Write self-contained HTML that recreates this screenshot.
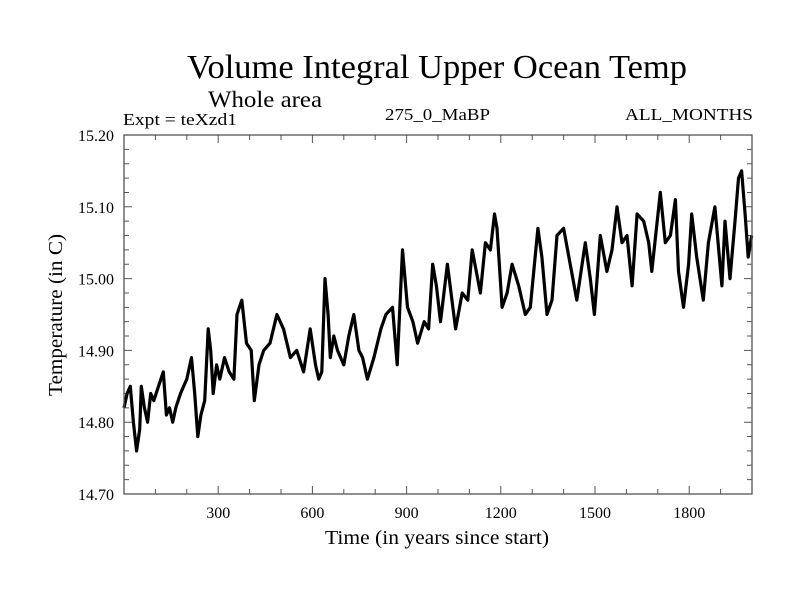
<!DOCTYPE html>
<html><head><meta charset="utf-8"><style>
html,body{margin:0;padding:0;background:#fff;}
svg{display:block;font-family:"Liberation Serif",serif;}
</style></head><body>
<svg id="chart" width="800" height="600" viewBox="0 0 800 600" xmlns="http://www.w3.org/2000/svg">
<rect width="800" height="600" fill="#fff"/>
<text x="437" y="78" font-size="34" text-anchor="middle" textLength="500" lengthAdjust="spacingAndGlyphs">Volume Integral Upper Ocean Temp</text>
<text x="208" y="107" font-size="23" textLength="114" lengthAdjust="spacingAndGlyphs">Whole area</text>
<text x="123" y="125" font-size="17" textLength="114" lengthAdjust="spacingAndGlyphs">Expt = teXzd1</text>
<text x="385" y="120" font-size="17" textLength="105" lengthAdjust="spacingAndGlyphs">275_0_MaBP</text>
<text x="625" y="120" font-size="17" textLength="128" lengthAdjust="spacingAndGlyphs">ALL_MONTHS</text>
<text transform="translate(62,315) rotate(-90)" font-size="20" text-anchor="middle" textLength="162" lengthAdjust="spacingAndGlyphs">Temperature (in C)</text>
<text x="437" y="544" font-size="20" text-anchor="middle" textLength="224" lengthAdjust="spacingAndGlyphs">Time (in years since start)</text>
<g id="ticks"></g>
<path id="series" fill="none" stroke="#000" stroke-width="3.2" stroke-linejoin="round"/>
<rect x="124" y="135" width="628" height="359" fill="none" stroke="#555" stroke-width="1.3"/>
</svg>
<script>
const years = [0,10,20,30,40,50,55,65,75,85,95,110,125,135,145,155,165,180,200,215,225,235,245,257,268,276,284,295,305,320,335,350,360,375,390,405,415,430,445,465,487,508,530,550,572,593,610,620,630,640,650,657,668,680,700,716,732,748,760,775,796,818,834,855,870,887,903,920,935,956,970,983,995,1008,1030,1056,1077,1095,1109,1135,1151,1167,1180,1188,1204,1220,1236,1257,1278,1294,1318,1331,1347,1363,1379,1400,1421,1442,1469,1485,1498,1517,1538,1554,1570,1586,1602,1618,1634,1655,1671,1681,1708,1724,1740,1756,1766,1782,1798,1808,1824,1845,1861,1882,1904,1914,1930,1946,1957,1967,1978,1988,1999];
const temps = [14.82,14.84,14.85,14.80,14.76,14.79,14.85,14.82,14.80,14.84,14.83,14.85,14.87,14.81,14.82,14.80,14.82,14.84,14.86,14.89,14.84,14.78,14.81,14.83,14.93,14.90,14.84,14.88,14.86,14.89,14.87,14.86,14.95,14.97,14.91,14.90,14.83,14.88,14.90,14.91,14.95,14.93,14.89,14.90,14.87,14.93,14.88,14.86,14.87,15.00,14.95,14.89,14.92,14.90,14.88,14.92,14.95,14.90,14.89,14.86,14.89,14.93,14.95,14.96,14.88,15.04,14.96,14.94,14.91,14.94,14.93,15.02,14.99,14.94,15.02,14.93,14.98,14.97,15.04,14.98,15.05,15.04,15.09,15.07,14.96,14.98,15.02,14.99,14.95,14.96,15.07,15.03,14.95,14.97,15.06,15.07,15.02,14.97,15.05,15.00,14.95,15.06,15.01,15.04,15.10,15.05,15.06,14.99,15.09,15.08,15.05,15.01,15.12,15.05,15.06,15.11,15.01,14.96,15.02,15.09,15.03,14.97,15.05,15.10,14.99,15.08,15.00,15.08,15.14,15.15,15.09,15.03,15.06];
const yTickValues = [14.70,14.80,14.90,15.00,15.10,15.20];
const xTickValues = [300,600,900,1200,1500,1800];
const X0=124,X1=752,Y0=494,Y1=135,XMIN=0,XMAX=2000,YMIN=14.70,YMAX=15.20;
function xs(v){return X0+(v-XMIN)/(XMAX-XMIN)*(X1-X0);}
function ys(v){return Y0-(v-YMIN)/(YMAX-YMIN)*(Y0-Y1);}
const NS="http://www.w3.org/2000/svg";
const svg=document.getElementById('chart');
const tg=document.getElementById('ticks');
let d="";
for(let i=0;i<years.length;i++){d+=(i?"L":"M")+xs(years[i]).toFixed(1)+","+ys(temps[i]).toFixed(1);}
document.getElementById('series').setAttribute('d',d);
let td="";
for(let v=100;v<XMAX;v+=100){const x=xs(v);const L=(v%300===0)?8:5;td+=`M${x},${Y0}V${Y0-L}M${x},${Y1}V${Y1+L}`;}
for(let k=1;k<25;k++){const v=YMIN+k*0.02;const y=ys(v);const L=(k%5===0)?8:5;td+=`M${X0},${y}H${X0+L}M${X1},${y}H${X1-L}`;}
const tp=document.createElementNS(NS,'path');
tp.setAttribute('d',td);tp.setAttribute('stroke','#555');tp.setAttribute('stroke-width','1');


tg.appendChild(tp);
yTickValues.forEach(v=>{const t=document.createElementNS(NS,'text');


t.setAttribute('x',114);t.setAttribute('y',ys(v)+6);t.setAttribute('text-anchor','end');t.setAttribute('font-size','16');
t.setAttribute('textLength','36');t.setAttribute('lengthAdjust','spacingAndGlyphs');
t.textContent=v.toFixed(2);svg.appendChild(t);});
xTickValues.forEach(v=>{const t=document.createElementNS(NS,'text');


t.setAttribute('x',xs(v));t.setAttribute('y',518);t.setAttribute('text-anchor','middle');t.setAttribute('font-size','16');
t.textContent=String(v);svg.appendChild(t);});
</script>
</body></html>
